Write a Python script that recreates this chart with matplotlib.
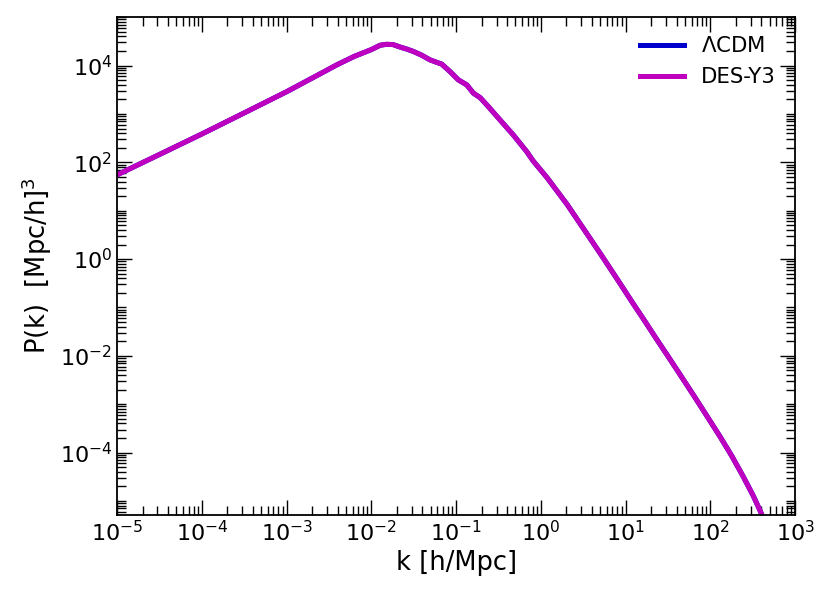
import numpy as np
import matplotlib.pyplot as plt
from matplotlib.ticker import LogLocator, NullFormatter

# valores (k em h/Mpc, P em (Mpc/h)^3)
k = [1e-5, 3.16e-5, 1e-4, 3.16e-4, 1e-3, 2.0e-3, 3.98e-3, 6.3e-3, 1e-2, 1.27e-2,
     1.5e-2, 1.8e-2, 2.18e-2, 2.6e-2, 3.13e-2, 3.9e-2, 4.93e-2, 5.8e-2, 6.78e-2, 8.49e-2,
     1.064e-1, 1.337e-1, 1.6e-1, 1.92e-1, 2.4e-1, 3.3e-1, 4.74e-1, 6.82e-1,
     8.11e-1, 1.186, 2.04, 3.2, 5.0, 8.0, 12.2, 16.1, 22.0, 32.0, 44.0, 63.1,
     90.8, 130.0, 179.0, 245.0, 322.0, 386.0, 500.0]
p_lcdm = [55.0, 145.0, 385.0, 1050.0, 2880.0, 5500.0, 1.05e4, 1.55e4, 2.14e4, 2.63e4,
          2.75e4, 2.72e4, 2.42e4, 2.2e4, 1.96e4, 1.65e4, 1.31e4, 1.18e4, 1.07e4, 7.5e3,
          5.06e3, 3.99e3, 2.69e3, 2.18e3, 1.42e3, 752.0, 367.0, 166.0,
          107.0, 48.0, 13.5, 4.2, 1.32, 0.38, 0.122, 0.059, 0.0255, 9.5e-3, 4.07e-3, 1.55e-3,
          5.75e-4, 2.14e-4, 8.5e-5, 3.16e-5, 1.26e-5, 6.3e-6, 2.2e-6]
p_desy3 = [55.0, 145.0, 385.0, 1050.0, 2880.0, 5500.0, 1.05e4, 1.55e4, 2.14e4, 2.63e4,
           2.75e4, 2.72e4, 2.42e4, 2.2e4, 1.96e4, 1.65e4, 1.31e4, 1.18e4, 1.07e4, 7.5e3,
           5.06e3, 3.99e3, 2.69e3, 2.18e3, 1.42e3, 752.0, 367.0, 166.0,
           107.0, 48.0, 13.5, 4.2, 1.32, 0.38, 0.122, 0.059, 0.0255, 9.5e-3, 4.07e-3, 1.55e-3,
           5.75e-4, 2.14e-4, 8.5e-5, 3.16e-5, 1.26e-5, 6.3e-6, 2.2e-6]

fig = plt.figure(figsize=(8.3, 5.93), dpi=100)
ax = fig.add_axes([0.141, 0.132, 0.817, 0.839])

ax.loglog(k, p_lcdm, color='#0000cd', lw=3.6, label=r'$\Lambda$CDM')
ax.loglog(k, p_desy3, color='#bf00bf', lw=3.6, label='DES-Y3')

ax.set_xlim(1e-5, 1e3)
ax.set_ylim(5.2e-6, 1e5)

ax.xaxis.set_major_locator(LogLocator(base=10, numticks=20))
ax.xaxis.set_minor_locator(LogLocator(base=10, subs=np.arange(1, 10), numticks=100))
ax.xaxis.set_minor_formatter(NullFormatter())
ax.set_yticks([1e-4, 1e-2, 1e0, 1e2, 1e4])
ax.yaxis.set_minor_locator(LogLocator(base=10, subs=np.arange(1, 10), numticks=100))
ax.yaxis.set_minor_formatter(NullFormatter())

ax.tick_params(which='both', direction='in', top=True, right=True, labelsize=16)
ax.tick_params(which='major', length=11, width=1)
ax.tick_params(which='minor', length=6.5, width=1)
for s in ax.spines.values():
    s.set_linewidth(1.3)

ax.set_xlabel('k [h/Mpc]', fontsize=18.5)
ax.set_ylabel(r'P(k)  [Mpc/h]$^3$', fontsize=18.5)
ax.legend(loc='upper right', frameon=False, fontsize=15.3, handlelength=2.1)

fig.savefig('out.png', dpi=100)
